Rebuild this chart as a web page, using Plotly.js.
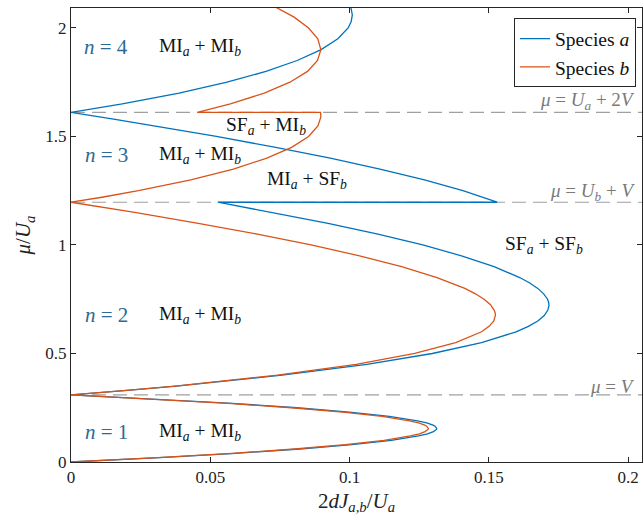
<!DOCTYPE html>
<html>
<head>
<meta charset="utf-8">
<script src="https://cdn.plot.ly/plotly-3.0.1.min.js"></script>
<style>html,body{margin:0;padding:0;background:#fff;}#chart{width:644px;height:518px;}</style>
</head>
<body>
<div id="chart"></div>
<script>
// ---- data ----
// Species a (blue): mu/U_a values and matching 2dJ/U_a values along its boundary
const blueMu = [0, 0.01, 0.02, 0.04, 0.06, 0.08, 0.10, 0.12, 0.13, 0.14, 0.145, 0.15, 0.155, 0.16, 0.165, 0.17, 0.18, 0.19, 0.21, 0.23, 0.25, 0.27, 0.29, 0.30, 0.309,
  0.33, 0.35, 0.40, 0.45, 0.50, 0.55, 0.60, 0.625, 0.65, 0.675, 0.70, 0.72, 0.735, 0.75, 0.775, 0.80, 0.825, 0.85, 0.90, 0.95, 1.00, 1.05, 1.10, 1.15, 1.197,
  1.197, 1.25, 1.30, 1.35, 1.40, 1.45, 1.50, 1.55, 1.58, 1.611,
  1.63, 1.65, 1.70, 1.75, 1.80, 1.85, 1.90, 1.95, 2.00, 2.03, 2.06, 2.10];
const blueX = [0, 0.0164, 0.0318, 0.0592, 0.0822, 0.1008, 0.1150, 0.1247, 0.1280, 0.1301, 0.1308, 0.1312, 0.1313, 0.1311, 0.1307, 0.1300, 0.1277, 0.1244, 0.1143, 0.0999, 0.0811, 0.0579, 0.0303, 0.0149, 0,
  0.0201, 0.0378, 0.0758, 0.1062, 0.1297, 0.1474, 0.1598, 0.1642, 0.1676, 0.1699, 0.1712, 0.1716, 0.1715, 0.1711, 0.1697, 0.1676, 0.1647, 0.1611, 0.1519, 0.1402, 0.1263, 0.1102, 0.0923, 0.0726, 0.0527,
  0.1530, 0.1407, 0.1269, 0.1109, 0.0931, 0.0735, 0.0522, 0.0295, 0.0153, 0,
  0.0092, 0.0184, 0.0388, 0.0560, 0.0700, 0.0812, 0.0898, 0.0958, 0.0995, 0.1006, 0.1010, 0.1004];

// Species b (orange)
const orangeMu = [0, 0.01, 0.02, 0.04, 0.06, 0.08, 0.10, 0.12, 0.13, 0.14, 0.145, 0.15, 0.155, 0.16, 0.165, 0.17, 0.18, 0.19, 0.21, 0.23, 0.25, 0.27, 0.29, 0.30, 0.309,
  0.33, 0.35, 0.40, 0.45, 0.50, 0.55, 0.60, 0.625, 0.65, 0.66, 0.677, 0.69, 0.70, 0.725, 0.75, 0.775, 0.80, 0.85, 0.90, 0.95, 1.00, 1.05, 1.10, 1.15, 1.197,
  1.22, 1.25, 1.30, 1.35, 1.40, 1.45, 1.50, 1.55, 1.59, 1.611,
  1.611, 1.63, 1.65, 1.70, 1.75, 1.80, 1.85, 1.90, 1.95, 2.00, 2.05, 2.10];
const orangeX = [0, 0.0161, 0.0311, 0.0578, 0.0803, 0.0985, 0.1124, 0.1218, 0.1251, 0.1271, 0.1278, 0.1282, 0.1283, 0.1281, 0.1277, 0.1270, 0.1248, 0.1215, 0.1117, 0.0976, 0.0792, 0.0566, 0.0296, 0.0145, 0,
  0.0200, 0.0374, 0.0741, 0.1024, 0.1234, 0.1381, 0.1474, 0.1501, 0.1518, 0.1521, 0.1524, 0.1522, 0.1519, 0.1506, 0.1483, 0.1452, 0.1414, 0.1314, 0.1187, 0.1036, 0.0862, 0.0669, 0.0457, 0.0229, 0,
  0.0111, 0.0242, 0.0430, 0.0583, 0.0703, 0.0792, 0.0853, 0.0887, 0.0897, 0.0896,
  0.0454, 0.0514, 0.0572, 0.0694, 0.0786, 0.0849, 0.0885, 0.0897, 0.0886, 0.0853, 0.0801, 0.0729];

// dashed reference levels (mu/U_a) and their labels
const levelMu = [0.309, 1.197, 1.611];
const levelLabels = ['<i>μ</i> = <i>V</i>', '<i>μ</i> = <i>U</i><sub><i>b</i></sub> + <i>V</i>', '<i>μ</i> = <i>U</i><sub><i>a</i></sub> + 2<i>V</i>'];
const levelLabelMu = [0.35, 1.245, 1.662];

// region labels
const nLabels = ['<i>n</i> = 1', '<i>n</i> = 2', '<i>n</i> = 3', '<i>n</i> = 4'];
const nLabelMu = [0.14, 0.677, 1.415, 1.912];
const phaseLabels = ['MI<sub><i>a</i></sub> + MI<sub><i>b</i></sub>', 'MI<sub><i>a</i></sub> + MI<sub><i>b</i></sub>', 'MI<sub><i>a</i></sub> + MI<sub><i>b</i></sub>', 'MI<sub><i>a</i></sub> + MI<sub><i>b</i></sub>',
  'SF<sub><i>a</i></sub> + MI<sub><i>b</i></sub>', 'MI<sub><i>a</i></sub> + SF<sub><i>b</i></sub>', 'SF<sub><i>a</i></sub> + SF<sub><i>b</i></sub>'];
const phaseLabelX = [0.0464, 0.0464, 0.0464, 0.0464, 0.0701, 0.0846, 0.1697];
const phaseLabelMu = [0.14, 0.677, 1.415, 1.912, 1.548, 1.300, 1.0];

const xTickVals = [0, 0.05, 0.1, 0.15, 0.2];
const xTickText = ['0', '0.05', '0.1', '0.15', '0.2'];
const yTickVals = [0, 0.5, 1, 1.5, 2];
const yTickText = ['0', '0.5', '1', '1.5', '2'];

// ---- styling ----
const FONT = 'Liberation Serif, Times New Roman, serif';
const BLUE = '#0072BD';
const ORANGE = '#D95319';
const GRAY = '#a0a0a0';
const xRange = [0, 0.205];
const yRange = [0, 2.092];

const traces = [];
levelMu.forEach(function (m) {
  traces.push({x: xRange, y: [m, m], mode: 'lines', showlegend: false, hoverinfo: 'skip',
    line: {color: GRAY, width: 1.2, dash: '14px,7px'}});
});
traces.push({x: blueX, y: blueMu, mode: 'lines', name: 'Species <i>a</i>', line: {color: BLUE, width: 1.3}});
traces.push({x: orangeX, y: orangeMu, mode: 'lines', name: 'Species <i>b</i>', line: {color: ORANGE, width: 1.3}});

const annotations = [];
nLabels.forEach(function (t, i) {
  annotations.push({x: 0.0126, y: nLabelMu[i], xref: 'x', yref: 'y', text: t, showarrow: false,
    font: {family: FONT, size: 21, color: '#2c6a95'}});
});
phaseLabels.forEach(function (t, i) {
  annotations.push({x: phaseLabelX[i], y: phaseLabelMu[i], xref: 'x', yref: 'y', text: t, showarrow: false,
    font: {family: FONT, size: 19.5, color: '#111'}});
});
levelLabels.forEach(function (t, i) {
  annotations.push({x: 0.2033, y: levelLabelMu[i], xref: 'x', yref: 'y', text: t, showarrow: false, xanchor: 'right',
    font: {family: FONT, size: 19, color: '#7a7a7a'}});
});

const axisCommon = {
  showgrid: false, zeroline: false, showline: true, linecolor: '#262626', linewidth: 1,
  mirror: 'ticks', ticks: 'inside', ticklen: 5, tickcolor: '#262626',
  tickfont: {family: FONT, size: 17, color: '#222'}
};

const layout = {
  width: 644, height: 518,
  margin: {l: 71, r: 2, t: 8, b: 56},
  paper_bgcolor: '#fff', plot_bgcolor: '#fff',
  font: {family: FONT},
  xaxis: Object.assign({}, axisCommon, {
    range: xRange, tickvals: xTickVals, ticktext: xTickText,
    title: {text: '2<i>dJ</i><sub><i>a,b</i></sub>/<i>U</i><sub><i>a</i></sub>', font: {family: FONT, size: 21, color: '#222'}, standoff: 6}
  }),
  yaxis: Object.assign({}, axisCommon, {
    range: yRange, tickvals: yTickVals, ticktext: yTickText,
    title: {text: '<i>μ</i>/<i>U</i><sub><i>a</i></sub>', font: {family: FONT, size: 21, color: '#222'}, standoff: 8}
  }),
  legend: {x: 0.9895, y: 0.977, xanchor: 'right', yanchor: 'top', bgcolor: '#fff',
    bordercolor: '#262626', borderwidth: 1, font: {family: FONT, size: 19.5, color: '#111'},
    tracegroupgap: 0},
  annotations: annotations
};

Plotly.newPlot('chart', traces, layout, {displayModeBar: false, staticPlot: true});
</script>
</body>
</html>
